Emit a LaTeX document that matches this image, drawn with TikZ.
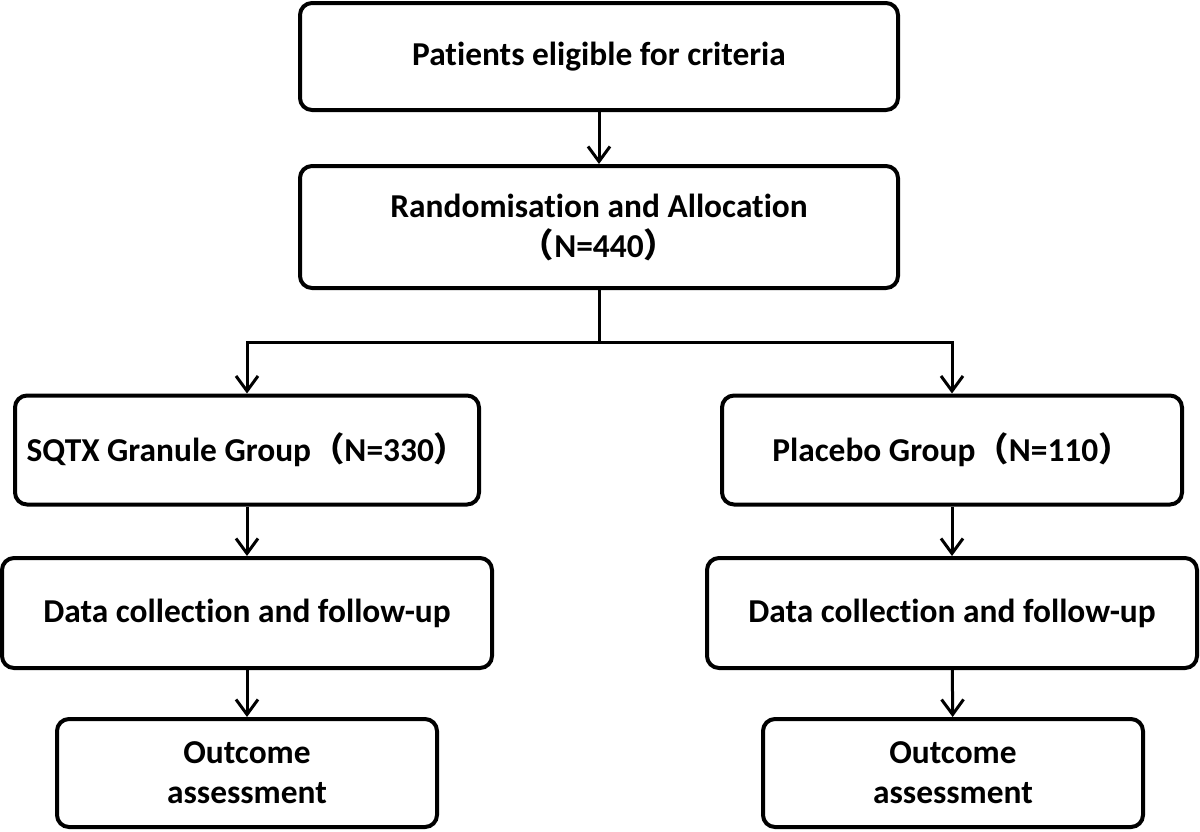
\documentclass[tikz,border=0pt]{standalone}
\usepackage{fontspec}
\setmainfont{Carlito}[Ligatures=NoCommon]
\newfontfamily\cjk{Noto Sans CJK SC}
\usetikzlibrary{arrows.meta}
\tikzset{
	box/.style={draw, line width=2pt, rounded corners=6pt, align=center,
		font=\fontsize{16.7}{20}\selectfont\bfseries, inner sep=0pt},
	arr/.style={line width=1.5pt, -{Straight Barb[length=7.5pt,width=11pt,line width=1.5pt]}},
}
\begin{document}
\begin{tikzpicture}[x=0.5pt,y=-0.5pt]
		\useasboundingbox (0,0) rectangle (1200,831);
		% boxes
		\node[box, minimum width=299pt, minimum height=53.5pt] (elig) at (599,56.5) {Patients eligible for criteria};
		\node[box, minimum width=299pt, minimum height=61pt] (rand) at (599,227) {Randomisation and Allocation\\{\cjk （}N=440{\cjk ）}};
		\node[box, minimum width=232pt, minimum height=54.5pt] (sqtx) at (247,450) {SQTX Granule Group{\cjk （}N=330{\cjk ）}};
		\node[box, minimum width=230pt, minimum height=54.5pt] (plac) at (952,450) {Placebo Group{\cjk （}N=110{\cjk ）}};
		\node[box, minimum width=245pt, minimum height=55pt] (datal) at (247,613) {Data collection and follow-up};
		\node[box, minimum width=245pt, minimum height=55pt] (datar) at (952,613) {Data collection and follow-up};
		\node[box, minimum width=190pt, minimum height=54pt] (outl) at (247,773) {Outcome\\assessment};
		\node[box, minimum width=190pt, minimum height=54pt] (outr) at (953,773) {Outcome\\assessment};
		
		% arrows
		\draw[arr] (elig) -- (rand);
		\coordinate (split) at (599,342);
		\draw[line width=1.5pt] (rand.south) -- (split);
		\draw[arr] (split) -| (sqtx.north);
		\draw[arr] (split) -| (plac.north);
		\draw[arr] (sqtx) -- (datal);
		\draw[arr] (plac) -- (datar);
		\draw[arr] (datal) -- (outl);
		\draw[arr] (datar) -- (outr);
\end{tikzpicture}
\end{document}
